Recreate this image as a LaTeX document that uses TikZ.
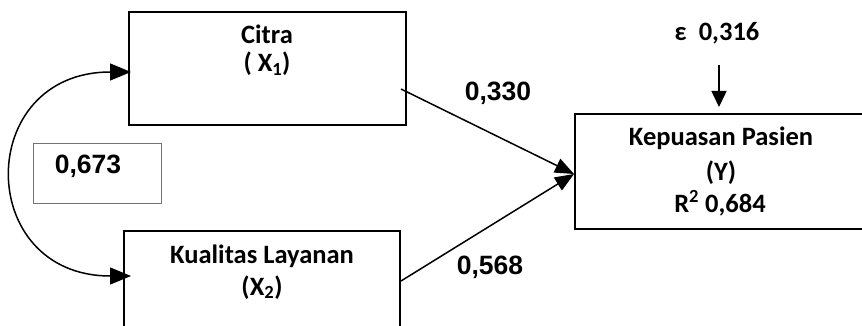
\documentclass[tikz,border=0pt]{standalone}
\usepackage{fontspec}
\setmainfont{Carlito}
\newfontfamily\arialfont{Liberation Sans}
\usetikzlibrary{arrows.meta, calc}
\tikzstyle{varbox} = [rectangle, draw=black, line width=2pt, inner sep=0pt]
\tikzstyle{boxtext} = [anchor=base, inner sep=0pt, font=\fontsize{26.5}{30}\selectfont\bfseries]
\tikzstyle{coef} = [anchor=base, inner sep=0pt, font=\fontsize{26.5}{30}\selectfont\arialfont\bfseries]
\tikzstyle{effect} = [line width=1.5pt, -{Triangle[length=19pt,width=15pt]}]
\tikzstyle{corr} = [line width=1.5pt, {Triangle[length=21pt,width=17pt]}-{Triangle[length=21pt,width=17pt]}]
\tikzstyle{errarrow} = [line width=1.5pt, -{Triangle[length=16pt,width=15pt]}]

\begin{document}
\begin{tikzpicture}[x=1pt, y=-1pt]
\clip (0,0) rectangle (862,326);

% Exogenous variables
\node[varbox, minimum width=277, minimum height=113] (citra) at (267.5,68.5) {};
\node[boxtext] (citra_t1) at (267,44) {Citra};
\node[boxtext] (citra_t2) at (267,72) {( X\textsubscript{1})};

\node[varbox, minimum width=276, minimum height=113] (kualitas) at (262,287.5) {};
\node[boxtext] (kualitas_t1) at (262,263) {Kualitas Layanan};
\node[boxtext] (kualitas_t2) at (262,295) {(X\textsubscript{2})};

% Endogenous variable
\node[varbox, minimum width=292, minimum height=115] (kepuasan) at (721,171.5) {};
\node[boxtext] (kepuasan_t1) at (721,146) {Kepuasan Pasien};
\node[boxtext] (kepuasan_t2) at (721,180) {(Y)};
\node[boxtext] (kepuasan_t3) at (720,212) {R\textsuperscript{2} 0,684};

% Correlation
\node[rectangle, draw=black!55, line width=1pt, minimum width=128, minimum height=59] (corr_box) at (97,173.5) {};
\node[coef] (corr_val) at (88,173) {0,673};
\coordinate (corr_top) at (131,72);
\coordinate (corr_bot) at (131,276);
\draw[corr] (corr_top) to[out=180, in=180, looseness=1.97] (corr_bot);

% Paths
\draw[effect] ([shift={(-6,20.5)}]citra.east) -- ([shift={(0,2.5)}]kepuasan.west);
\draw[effect] ([shift={(0,-6.5)}]kualitas.east) -- ([shift={(0,2.5)}]kepuasan.west);
\node[coef] (coef_x1) at (498,101) {0,330};
\node[coef] (coef_x2) at (490,274) {0,568};

% Error term
\node[boxtext] (eps) at (717,41) {ε\ \ 0,316};
\coordinate (eps_tail) at (719,65);
\draw[errarrow, shorten >=6pt] (eps_tail) -- (eps_tail |- kepuasan.north);

\end{tikzpicture}
\end{document}
